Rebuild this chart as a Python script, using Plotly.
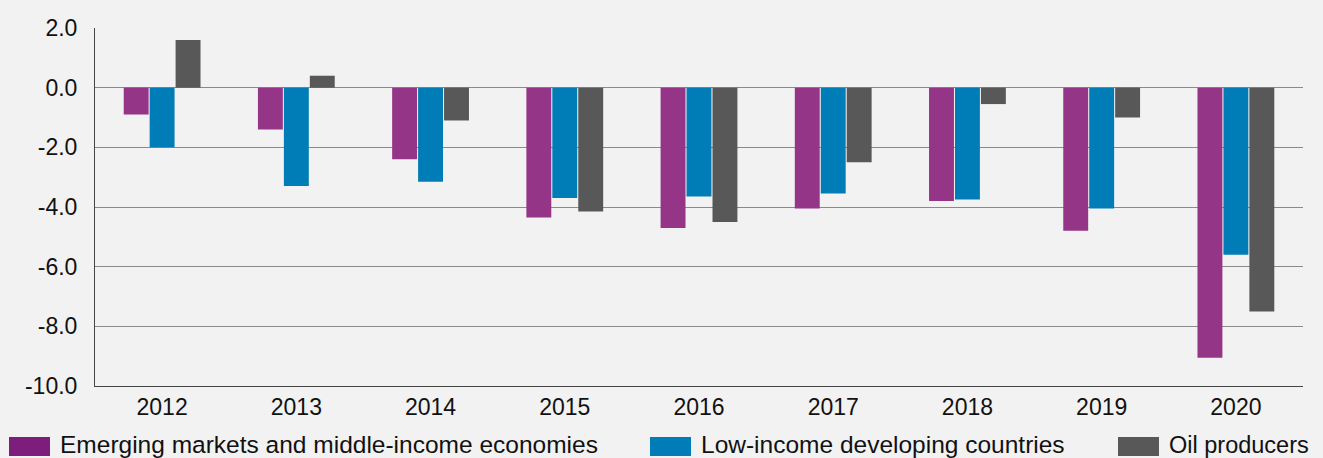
import plotly.graph_objects as go

years = ["2012", "2013", "2014", "2015", "2016", "2017", "2018", "2019", "2020"]
emerging = [-0.9, -1.4, -2.4, -4.35, -4.7, -4.05, -3.8, -4.8, -9.05]
low_income = [-2.0, -3.3, -3.15, -3.7, -3.65, -3.55, -3.75, -4.05, -5.6]
oil = [1.6, 0.4, -1.1, -4.15, -4.5, -2.5, -0.55, -1.0, -7.5]

series_names = ["Emerging markets and middle-income economies",
                "Low-income developing countries",
                "Oil producers"]
bar_colors = ["#953588", "#007cb6", "#585858"]
legend_colors = ["#7d1e7c", "#007cb6", "#585858"]

y_ticks = [2, 0, -2, -4, -6, -8, -10]
y_ticktext = ["2.0", "0.0", "-2.0", "-4.0", "-6.0", "-8.0", "-10.0"]

FONT = "Liberation Sans, Arial, sans-serif"

fig = go.Figure()
for name, vals, col in zip(series_names, [emerging, low_income, oil], bar_colors):
    fig.add_trace(go.Bar(x=years, y=vals, name=name, marker_color=col,
                         marker_line_width=0, showlegend=False))

fig.update_layout(
    width=1323, height=458,
    paper_bgcolor="#f2f2f2", plot_bgcolor="#f2f2f2",
    margin=dict(l=95, r=20, t=28, b=72),
    barmode="group", bargap=0.42, bargroupgap=0.04,
    font=dict(family=FONT, size=23, color="#111111"),
    xaxis=dict(showgrid=False, showline=True, linecolor="#444444", linewidth=1,
               ticks="", tickfont=dict(size=23), zeroline=False),
    yaxis=dict(range=[-10, 2], tickvals=y_ticks, ticktext=y_ticktext,
               showgrid=True, gridcolor="#8a8a8a", gridwidth=1,
               showline=True, linecolor="#444444", linewidth=1,
               zeroline=True, zerolinecolor="#8a8a8a", zerolinewidth=1,
               ticks="", ticklen=0, ticklabelstandoff=12, tickfont=dict(size=23)),
)

# manual legend (swatches + labels)
legend_x = [9, 650, 1118]
legend_sizes = [24.5, 24.5, 23.5]
for xp, name, col, fs in zip(legend_x, series_names, legend_colors, legend_sizes):
    fig.add_shape(type="rect", xref="paper", yref="paper",
                  x0=(xp - 95) / 1208, x1=(xp + 41 - 95) / 1208,
                  y0=(386 - 456) / 358, y1=(386 - 437) / 358,
                  fillcolor=col, line_width=0)
    fig.add_annotation(xref="paper", yref="paper", x=(xp + 50 - 95) / 1208,
                       y=(386 - 445) / 358, text=name, showarrow=False,
                       xanchor="left", yanchor="middle", borderpad=0,
                       font=dict(size=fs, family=FONT, color="#111111"))

fig.write_html("out.html", config={"displayModeBar": False},
               post_script="document.body.style.margin='0';")
